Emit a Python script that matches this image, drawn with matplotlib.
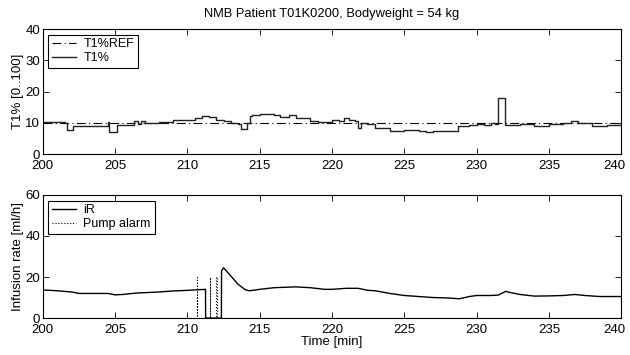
import numpy as np
import matplotlib.pyplot as plt
import matplotlib.transforms as mtransforms

plt.rcParams['font.family'] = ['Liberation Sans', 'DejaVu Sans']
plt.rcParams['font.size'] = 9.5

### DATA ------------------------
# T1% trace (minutes, percent), drawn as steps
t1_time = [200.0, 201.5, 201.7, 202.1, 204.5, 204.6, 205.1, 206.3, 206.6, 206.8,
           207.1, 208.0, 209.0, 210.0, 210.5, 211.0, 211.5, 212.0, 212.5, 213.0,
           213.5, 213.7, 214.1, 214.3, 214.5, 215.0, 216.0, 216.4, 217.0, 217.5,
           218.5, 219.0, 220.0, 220.5, 220.8, 221.2, 221.6, 221.8, 222.0, 222.4,
           223.0, 224.0, 225.0, 226.0, 226.5, 227.0, 228.7, 229.5, 230.0, 230.5,
           231.0, 231.3, 231.5, 231.95, 232.1, 233.0, 234.0, 235.0, 236.0, 236.5,
           237.0, 238.0, 239.0, 240.0]
t1_value = [10.3, 9.8, 7.8, 9.0, 10.3, 7.2, 9.3, 10.5, 9.5, 10.6,
            9.8, 10.4, 10.8, 11.0, 11.5, 12.3, 12.0, 11.0, 10.5, 9.8,
            9.5, 8.0, 10.0, 12.3, 12.6, 12.8, 12.5, 12.0, 12.5, 11.5,
            10.5, 10.2, 11.0, 10.5, 11.5, 11.0, 10.5, 8.5, 10.0, 9.5,
            8.5, 7.5, 7.8, 7.5, 7.0, 7.5, 9.0, 9.3, 9.5, 9.3,
            10.0, 9.5, 17.8, 9.2, 9.2, 9.5, 9.0, 9.7, 10.0, 10.6,
            10.0, 9.0, 9.2, 9.8]
t1_ref = 10

# Infusion rate (ml/h)
ir_time = [200.0, 201.0, 202.0, 202.5, 204.5, 205.0, 205.5, 206.5, 208.0, 209.0,
           210.0, 211.25, 211.26, 212.35, 212.36, 212.5, 213.0, 213.5, 214.0, 214.3,
           215.0, 216.0, 217.5, 218.5, 219.5, 220.0, 221.0, 221.8, 222.5, 223.0,
           224.0, 225.0, 226.0, 227.0, 228.0, 228.8, 229.5, 230.0, 231.0, 231.5,
           232.0, 232.3, 233.0, 234.0, 235.0, 236.0, 236.8, 237.5, 238.5, 240.0]
ir_value = [13.7, 13.3, 12.7, 12.0, 12.0, 11.3, 11.5, 12.2, 12.7, 13.2,
            13.5, 14.0, 0.0, 0.0, 23.0, 24.5, 20.5, 16.5, 13.8, 13.3,
            14.0, 14.8, 15.2, 14.8, 14.0, 14.0, 14.5, 14.5, 13.5, 13.3,
            12.0, 11.0, 10.5, 10.0, 9.8, 9.4, 10.5, 11.0, 11.0, 11.2,
            13.0, 12.5, 11.5, 10.7, 10.8, 11.0, 11.5, 11.0, 10.5, 10.5]

# Pump alarm pulses
alarm_times = [210.65, 211.55, 212.0]
alarm_level = 20

### PLOT ------------------------
fig = plt.figure(figsize=(6.3, 3.55), dpi=100)
ax1 = fig.add_axes([0.068, 0.566, 0.918, 0.352])
ax2 = fig.add_axes([0.068, 0.104, 0.918, 0.347])

ax1.plot([200, 240], [t1_ref, t1_ref], color='black', lw=0.8, linestyle='-.',
         dashes=(8, 3, 1, 3), label='T1%REF')
ax1.plot(t1_time, t1_value, color='#222222', lw=1.0, drawstyle='steps-post', label='T1%')
ax1.set_xlim(200, 240)
ax1.set_ylim(0, 40)
ax1.set_yticks([0, 10, 20, 30, 40])
ax1.set_xticks(np.arange(200, 241, 5))
ax1.set_ylabel('T1% [0..100]', labelpad=1)
ax1.set_title('NMB Patient T01K0200, Bodyweight = 54 kg', fontsize=9.3, pad=9)

# build alarm signal from pulses
a_x = [200]
a_y = [0]
for t in alarm_times:
    a_x += [t, t, t + 0.03, t + 0.03]
    a_y += [0, alarm_level, alarm_level, 0]
a_x.append(240)
a_y.append(0)

ax2.plot(ir_time, ir_value, color='black', lw=1.0, label='iR')
ax2.plot(a_x, a_y, color='black', lw=0.8, linestyle=':', label='Pump alarm')
ax2.set_xlim(200, 240)
ax2.set_ylim(0, 60)
ax2.set_yticks([0, 20, 40, 60])
ax2.set_xticks(np.arange(200, 241, 5))
ax2.set_ylabel('Infusion rate [ml/h]', labelpad=1)
ax2.set_xlabel('Time [min]', labelpad=0)

for ax in (ax1, ax2):
    ax.tick_params(direction='in', top=True, right=True, length=4, width=0.6, pad=2)
    ax.tick_params(axis='x', pad=4.5)
    for s in ax.spines.values():
        s.set_linewidth(0.8)
    # keep the last x label inside the figure
    last = ax.get_xticklabels()[-1]
    last.set_transform(last.get_transform() +
                       mtransforms.ScaledTranslation(-5 / 72, 0, fig.dpi_scale_trans))
    leg = ax.legend(loc='upper left', fancybox=False, edgecolor='black',
                    framealpha=1, borderpad=0.3, handlelength=1.9, fontsize=9,
                    handletextpad=0.6, labelspacing=0.15, borderaxespad=0.45)
    leg.get_frame().set_linewidth(0.8)

fig.savefig('out.png', dpi=100)
